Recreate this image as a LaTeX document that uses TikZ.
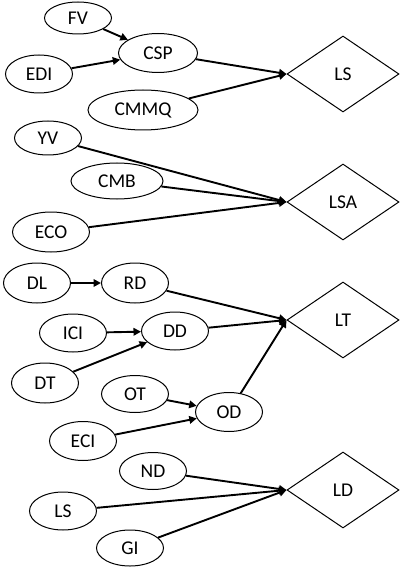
\documentclass[tikz,border=0pt]{standalone}
\usepackage{fontspec}
\setmainfont{Carlito}
\usetikzlibrary{shapes.geometric,arrows.meta}
\begin{document}
\begin{tikzpicture}[x=1pt,y=-1pt,
  factor/.style={ellipse,draw,line width=1pt,inner sep=0pt,font=\fontsize{19.5}{22}\selectfont},
  outcome/.style={diamond,draw,line width=1pt,inner sep=0pt,aspect=1.47,
    minimum width=112pt,minimum height=76pt,font=\fontsize{19.5}{22}\selectfont},
  link/.style={line width=1.9pt,-{Triangle[length=7.5pt,width=7.5pt]}}]
\useasboundingbox (0,0) rectangle (399,569);

% outcomes
\node[outcome] (ls)  at (343,74)  {LS};
\node[outcome] (lsa) at (343,202) {LSA};
\node[outcome] (lt)  at (343,320) {LT};
\node[outcome] (ld)  at (343,490) {LD};

% LS group
\node[factor,minimum width=67pt,minimum height=32pt] (fv)   at (78,18)   {FV};
\node[factor,minimum width=79pt,minimum height=39pt] (csp)  at (158,53)  {CSP};
\node[factor,minimum width=67pt,minimum height=38pt] (edi)  at (39,74)   {EDI};
\node[factor,minimum width=110pt,minimum height=40pt] (cmmq) at (143,110) {CMMQ};

% LSA group
\node[factor,minimum width=67pt,minimum height=34pt] (yv)  at (48,138)  {YV};
\node[factor,minimum width=92pt,minimum height=36pt] (cmb) at (117,181) {CMB};
\node[factor,minimum width=77pt,minimum height=40pt] (eco) at (51,232)  {ECO};

% LT group
\node[factor,minimum width=67pt,minimum height=40pt] (dl)  at (37,283)  {DL};
\node[factor,minimum width=67pt,minimum height=40pt] (rd)  at (135,283) {RD};
\node[factor,minimum width=67pt,minimum height=38pt] (ici) at (73,333)  {ICI};
\node[factor,minimum width=67pt,minimum height=38pt] (dd)  at (175,331) {DD};
\node[factor,minimum width=67pt,minimum height=40pt] (dt)  at (45,383)  {DT};
\node[factor,minimum width=67pt,minimum height=37pt] (ot)  at (135,394) {OT};
\node[factor,minimum width=67pt,minimum height=39pt] (od)  at (229,412) {OD};
\node[factor,minimum width=67pt,minimum height=39pt] (eci) at (83,441)  {ECI};

% LD group
\node[factor,minimum width=67pt,minimum height=37pt] (nd)  at (153,471) {ND};
\node[factor,minimum width=67pt,minimum height=38pt] (lsx) at (63,511)  {LS};
\node[factor,minimum width=67pt,minimum height=36pt] (gi)  at (130,548) {GI};

% connectors
\draw[link] (fv) -- (csp);
\draw[link] (edi) -- (csp);
\draw[link] (csp) -- (ls.west);
\draw[link] (cmmq) -- (ls.west);

\draw[link] (yv) -- (lsa.west);
\draw[link] (cmb) -- (lsa.west);
\draw[link] (eco) -- (lsa.west);

\draw[link] (dl) -- (rd);
\draw[link] (rd) -- (lt.west);
\draw[link] (ici) -- (dd);
\draw[link] (dt) -- (dd);
\draw[link] (dd) -- (lt.west);
\draw[link] (ot) -- (od);
\draw[link] (eci) -- (od);
\draw[link] (od) -- (lt.west);

\draw[link] (nd) -- (ld.west);
\draw[link] (lsx) -- (ld.west);
\draw[link] (gi) -- (ld.west);
\end{tikzpicture}
\end{document}
